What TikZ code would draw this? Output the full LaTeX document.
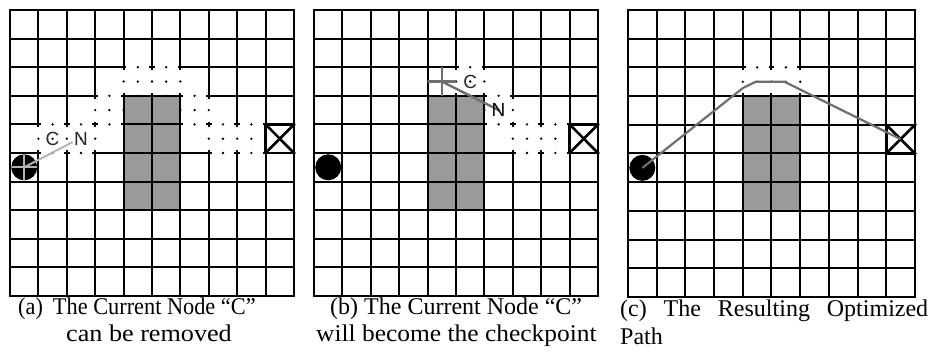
\documentclass[tikz,border=0pt]{standalone}
\usepackage{fontspec}
\usetikzlibrary{calc}
\setmainfont{Liberation Serif}
\newfontfamily\lblfont{Liberation Sans}
\definecolor{obst}{HTML}{9A9A9A}
\definecolor{pathlight}{HTML}{B4B4B4}
\definecolor{pathdark}{HTML}{6E6E6E}
\definecolor{lettergrey}{HTML}{2A2A2A}
\tikzset{
  gridline/.style={line width=2.6pt, black, line cap=rect},
  erase/.style={fill=white},
  dotmark/.style={fill=black},
  xmark/.style={line width=2.6pt, black, line cap=rect},
  startdisc/.style={circle, fill=black, minimum size=26pt, inner sep=0pt},
  lightpath/.style={line width=2pt, pathlight},
  darkpath/.style={line width=2.4pt, pathdark},
  letter/.style={font=\lblfont\fontsize{19}{19}\selectfont, text=lettergrey, inner sep=0pt},
  caption/.style={font=\fontsize{24}{24}\selectfont, inner sep=0pt, anchor=base west},
}
% vertical grid line at column #1 from row #2 to row #3 (snapped to whole pixels)
\newcommand{\gv}[3]{%
  \pgfmathsetmacro\gx{round(#1*\cw)/\cw}%
  \pgfmathsetmacro\gya{round(#2*\ch)/\ch}%
  \pgfmathsetmacro\gyb{round(#3*\ch)/\ch}%
  \draw[gridline] (\gx,\gya) -- (\gx,\gyb);
}
% horizontal grid line at row #1 from column #2 to column #3
\newcommand{\gh}[3]{%
  \pgfmathsetmacro\gy{round(#1*\ch)/\ch}%
  \pgfmathsetmacro\gxa{round(#2*\cw)/\cw}%
  \pgfmathsetmacro\gxb{round(#3*\cw)/\cw}%
  \draw[gridline] (\gxa,\gy) -- (\gxb,\gy);
}
\newcommand{\gridlines}{%
  \foreach \kk in {0,...,10} {\gv{\kk}{0}{10}\gh{\kk}{0}{10}}%
}
\newcommand{\dcell}[2]{%
  \fill[erase] ({#1+0.1},{#2-0.06}) rectangle ({#1+0.9},{#2+1.06});
  \fill[erase] ({#1-0.06},{#2+0.1}) rectangle ({#1+1.06},{#2+0.9});
  \foreach \pp/\qq in {0.5/0, 0.5/1, 0/0.5, 1/0.5, 0.5/0.5}
    \fill[dotmark] ({#1+\pp},{#2+\qq}) circle[radius=1.3pt];
}
\newcommand{\obstacle}{%
  \fill[obst] (4,3) rectangle (6,7);
  \foreach \kk in {4,5,6} {\gv{\kk}{3}{7}}%
  \foreach \kk in {3,4,5,6,7} {\gh{\kk}{4}{6}}%
}
\newcommand{\xcell}[2]{%
  \draw[xmark] (#1,#2) -- ({#1+1},{#2+1});
  \draw[xmark] ({#1+1},#2) -- (#1,{#2+1});
  \draw[xmark] (#1,#2) rectangle ({#1+1},{#2+1});
}
\begin{document}
\begin{tikzpicture}[x=1pt,y=-1pt]
\useasboundingbox[fill=white] (0,0) rectangle (931,354);

% ---------------- (a)
\def\cw{28.4}\def\ch{28.6}
\begin{scope}[shift={(10pt,-10pt)}, x=28.4pt, y=-28.6pt]
  \gridlines
  \foreach \cc/\rr in {4/2,5/2,3/3,6/3,1/4,2/4,7/4,8/4} {\dcell{\cc}{\rr}}
  \obstacle
  \xcell{9}{4}
  \node[startdisc] (sa) at (0.5,5.5) {};
  \coordinate (ca) at (1.5,4.5);
  \coordinate (na) at (2.5,4.5);
  \coordinate (ea) at (2.2,4.62);
  \draw[lightpath] (sa.center) -- ++(-0.45,0) -- ++(0.9,0);
  \draw[lightpath] (sa.center) -- ++(0,-0.45) -- ++(0,0.9);
  \draw[lightpath] (sa.center) -- (ea);
  \node[letter] (lc) at (ca) {C};
  \node[letter] (ln) at (na) {N};
\end{scope}

% ---------------- (b)
\begin{scope}[shift={(314pt,-10pt)}, x=28.4pt, y=-28.6pt]
  \gridlines
  \foreach \cc/\rr in {5/2,6/3,7/4,8/4} {\dcell{\cc}{\rr}}
  \obstacle
  \xcell{9}{4}
  \node[startdisc] (sb) at (0.5,5.5) {};
  \coordinate (kb) at (4.5,2.5);
  \coordinate (cb) at (5.5,2.5);
  \coordinate (nb) at (6.5,3.5);
  \draw[darkpath] (kb) -- ++(-0.5,0) -- ++(1,0);
  \draw[darkpath] (kb) -- ++(0,-0.5) -- ++(0,1);
  \draw[darkpath] (kb) -- (nb);
  \node[letter] (lcb) at (cb) {C};
  \node[letter, text=black] (lnb) at (nb) {N};
\end{scope}

% ---------------- (c)
\def\cw{28.7}\def\ch{28.7}
\begin{scope}[shift={(628pt,-10pt)}, x=28.7pt, y=-28.7pt]
  \gridlines
  \foreach \cc/\rr in {4/2,5/2} {\dcell{\cc}{\rr}}
  \obstacle
  \xcell{9}{4}
  \node[startdisc] (sc) at (0.5,5.5) {};
  \coordinate (ec) at (9.5,4.5);
  \coordinate (p1) at (4.0,2.72);
  \coordinate (p2) at (4.45,2.5);
  \coordinate (p3) at (5.45,2.5);
  \draw[darkpath, line width=2.2pt, line join=round] (sc.center) -- (p1) -- (p2) -- (p3) -- (ec);
\end{scope}

% ---------------- captions
\node[caption] (capa1) at (18,314) {\scalebox{0.93}[1]{(a)\hspace{0.45em}The Current Node “C”}};
\node[caption] (capa2) at (66,341) {\scalebox{1.09}[1]{can be removed}};
\node[caption] (capb1) at (330,314) {(b) The Current Node “C”};
\node[caption] (capb2) at (316,341) {\scalebox{1.06}[1]{will become the checkpoint}};
\node[caption] (capc1) at (620,316) {\makebox[308pt][s]{(c)\hfill The\hfill Resulting\hfill Optimized}};
\node[caption] (capc2) at (620,344) {Path};
\end{tikzpicture}
\end{document}
